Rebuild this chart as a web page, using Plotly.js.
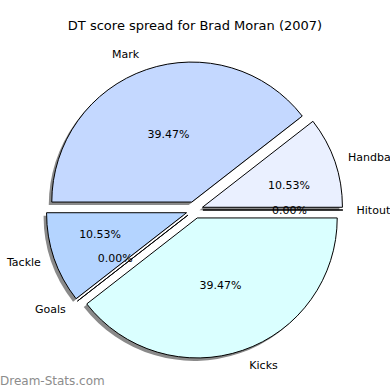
<!DOCTYPE html>
<html><head><meta charset="utf-8">
<script src="https://cdn.plot.ly/plotly-3.0.1.min.js"></script>
<style>body{margin:0;background:#fff}#c{width:390px;height:390px}</style>
</head><body><div id="c"></div>
<script>
const labels = ['Hitout','Handball','Mark','Tackle','Goals','Kicks'];
const values = [0,8,30,8,0,30];
const colors = ['#EAF0FF','#EAF0FF','#C4D8FF','#B4D4FF','#C4D8FF','#DAFFFF'];
const title = 'DT score spread for Brad Moran (2007)';
const watermark = 'Dream-Stats.com';

const W=390,H=390, cx=194.5, cy=210, r=140, pullF=0.06;
function dom(dx,dy,rad){
  const h = rad*(1+pullF);
  return {x:[(cx+dx-h)/W,(cx+dx+h)/W], y:[(H-cy-dy-h)/H,(H-cy-dy+h)/H]};
}
const total = values.reduce((a,b)=>a+b,0);
const big = values.map(v=>v/total>0.25);
const pulls = values.map(()=>pullF);
const common = {type:'pie', labels:labels, values:values, sort:false, direction:'counterclockwise', rotation:90, pull:pulls, showlegend:false, hoverinfo:'skip'};
const font = {family:'DejaVu Sans', size:11, color:'#000'};
const clear = values.map(()=>'rgba(0,0,0,0)');
const shadow = Object.assign({}, common, {domain:dom(-3,3,r), marker:{colors:values.map(()=>'#8a8a8a'), line:{width:0}}, textinfo:'none'});
const main = Object.assign({}, common, {domain:dom(0,0,r), marker:{colors:colors, line:{color:'#000', width:1}}, texttemplate:'%{percent:.2%}', textposition:big.map(b=>b?'inside':'none'), insidetextorientation:'horizontal', textfont:font});
const smallPct = Object.assign({}, common, {domain:dom(0,0,70), marker:{colors:clear, line:{width:0}}, texttemplate:'%{percent:.2%}', textposition:big.map(b=>b?'none':'outside'), textfont:font});
const lab = Object.assign({}, common, {domain:dom(0,0,r*1.07), marker:{colors:clear, line:{width:0}}, texttemplate:'%{label}', textposition:'outside', textfont:font});
Plotly.newPlot('c',[shadow,main,smallPct,lab],{
  width:W,height:H,margin:{l:0,r:0,t:0,b:0},paper_bgcolor:'#fff',
  title:{text:title, font:{family:'DejaVu Sans',size:13,color:'#000'}, x:0.5, xanchor:'center', y:1-25/H, yanchor:'middle'},
  annotations:[{text:watermark, xref:'paper', yref:'paper', x:0, y:0, xanchor:'left', yanchor:'bottom', xshift:-2, showarrow:false, font:{family:'DejaVu Sans',size:12,color:'#8c8c8c'}}]
},{staticPlot:true});
</script></body></html>
